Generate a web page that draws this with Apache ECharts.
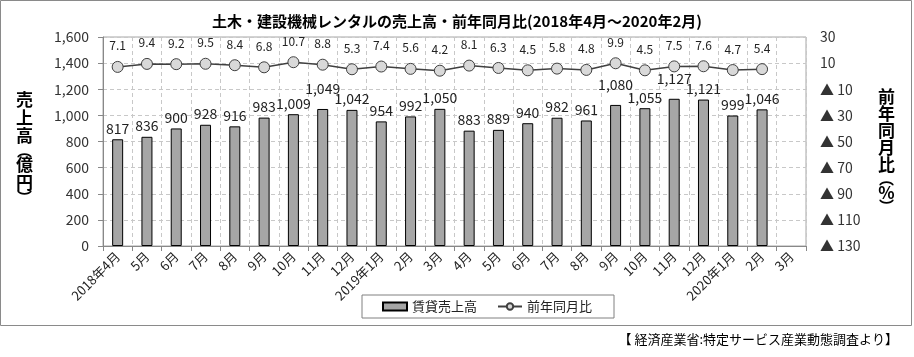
<!DOCTYPE html>
<html><head><meta charset="utf-8">
<script src="https://cdn.jsdelivr.net/npm/echarts@6/dist/echarts.min.js"></script>
<style>html,body{margin:0;padding:0;background:#fff}#c{width:914px;height:357px}</style>
</head><body><div id="c"></div>
<script>
const categories = ['2018年4月','5月','6月','7月','8月','9月','10月','11月','12月','2019年1月','2月','3月','4月','5月','6月','7月','8月','9月','10月','11月','12月','2020年1月','2月','3月'];
const sales = [817,836,900,928,916,983,1009,1049,1042,954,992,1050,883,889,940,982,961,1080,1055,1127,1121,999,1046,null];
const yoy = [7.1,9.4,9.2,9.5,8.4,6.8,10.7,8.8,5.3,7.4,5.6,4.2,8.1,6.3,4.5,5.8,4.8,9.9,4.5,7.5,7.6,4.7,5.4,null];
const leftTicks = [0,1600,200];
const rightTicks = [-130,30,20];
// labels that the original chart lifted to avoid overlap (indices)
const raisedLabels = [7,17,19];

const FONT = '"Noto Sans CJK JP", sans-serif';
const fmt = v => Number(v).toLocaleString('en-US');
const chart = echarts.init(document.getElementById('c'), null, {renderer:'canvas'});
const barData = sales.map((v,i)=> raisedLabels.includes(i) ? {value:v,label:{distance:13}} : v);
const vText = (chars) => chars.map(c => (c==='︵'||c==='︶') ? '{p|'+c+'}' : '{c|'+c+'}').join('\n');
chart.setOption({
  animation:false,
  backgroundColor:'#fff',
  textStyle:{fontFamily:FONT},
  title:{
    text:'土木・建設機械レンタルの売上高・前年同月比(2018年4月～2020年2月)',
    left:'center', top:9,
    textStyle:{fontFamily:FONT,fontSize:15,fontWeight:'bold',color:'#000'}
  },
  grid:{left:103,right:108,top:37,bottom:111,show:true,borderColor:'#a6a6a6',borderWidth:1,backgroundColor:'transparent'},
  legend:{
    left:362, top:295,
    borderColor:'#808080', borderWidth:1, padding:[5,22,5,20],
    itemGap:20, itemWidth:24, itemHeight:8,
    textStyle:{fontFamily:FONT,fontSize:13,color:'#222'},
    data:[{name:'賃貸売上高',icon:'rect'},{name:'前年同月比'}]
  },
  xAxis:{
    type:'category', data:categories, boundaryGap:true,
    axisLine:{lineStyle:{color:'#888'}},
    axisTick:{show:true,interval:0,lineStyle:{color:'#888'}},
    axisLabel:{interval:0,rotate:45,fontSize:13,color:'#222',fontFamily:FONT,margin:8},
    splitLine:{show:true,interval:0,lineStyle:{color:'#c8c8c8',type:[4,3]}}
  },
  yAxis:[{
    type:'value', min:leftTicks[0], max:leftTicks[1], interval:leftTicks[2],
    axisLine:{show:true,lineStyle:{color:'#888'}},
    axisTick:{show:true,lineStyle:{color:'#888'}},
    axisLabel:{fontSize:14,color:'#333',margin:14,fontFamily:FONT,formatter:fmt},
    splitLine:{show:true,lineStyle:{color:'#c8c8c8',type:[4,3]}}
  },{
    type:'value', min:rightTicks[0], max:rightTicks[1], interval:rightTicks[2],
    axisLine:{show:false}, axisTick:{show:false},
    axisLabel:{fontSize:14,color:'#333',margin:14,fontFamily:FONT,
      formatter:v=> v<0 ? '▲ '+(-v) : String(v)},
    splitLine:{show:false}
  }],
  series:[{
    name:'賃貸売上高', type:'bar', yAxisIndex:0, data:barData, barWidth:11,
    itemStyle:{color:'#a6a6a6',borderColor:'#000',borderWidth:1},
    label:{show:true,position:'top',distance:4,fontSize:14,color:'#222',fontFamily:FONT,
      formatter:p=>p.value==null?'':fmt(p.value)}
  },{
    name:'前年同月比', type:'line', yAxisIndex:1, data:yoy,
    symbol:'circle', symbolSize:11,
    lineStyle:{color:'#404040',width:1.5},
    itemStyle:{color:'#d9d9d9',borderColor:'#404040',borderWidth:1},
    label:{show:true,position:'top',distance:9,fontSize:12,color:'#222',fontFamily:FONT,
      formatter:p=>p.value==null?'':p.value.toFixed(1)}
  }],
  graphic:[
    {type:'rect',shape:{x:0.5,y:0.5,width:911,height:325},style:{fill:null,stroke:'#8a8a8a',lineWidth:1},silent:true},
    {type:'text',left:16,top:91,style:{text:vText(['売','上','高','︵','億','円','︶']),
      rich:{c:{font:'bold 17px '+FONT,lineHeight:18,fill:'#000',align:'center'},p:{font:'bold 15px '+FONT,lineHeight:11,fill:'#000',align:'center'}}}},
    {type:'text',left:878,top:88,style:{text:vText(['前','年','同','月','比','︵','%','︶']),
      rich:{c:{font:'bold 17px '+FONT,lineHeight:17,fill:'#000',align:'center'},p:{font:'bold 15px '+FONT,lineHeight:11,fill:'#000',align:'center'}}}},
    {type:'text',right:16,top:333,style:{text:'【 経済産業省:特定サービス産業動態調査より】',font:'13px '+FONT,fill:'#000'}}
  ]
});
</script></body></html>
